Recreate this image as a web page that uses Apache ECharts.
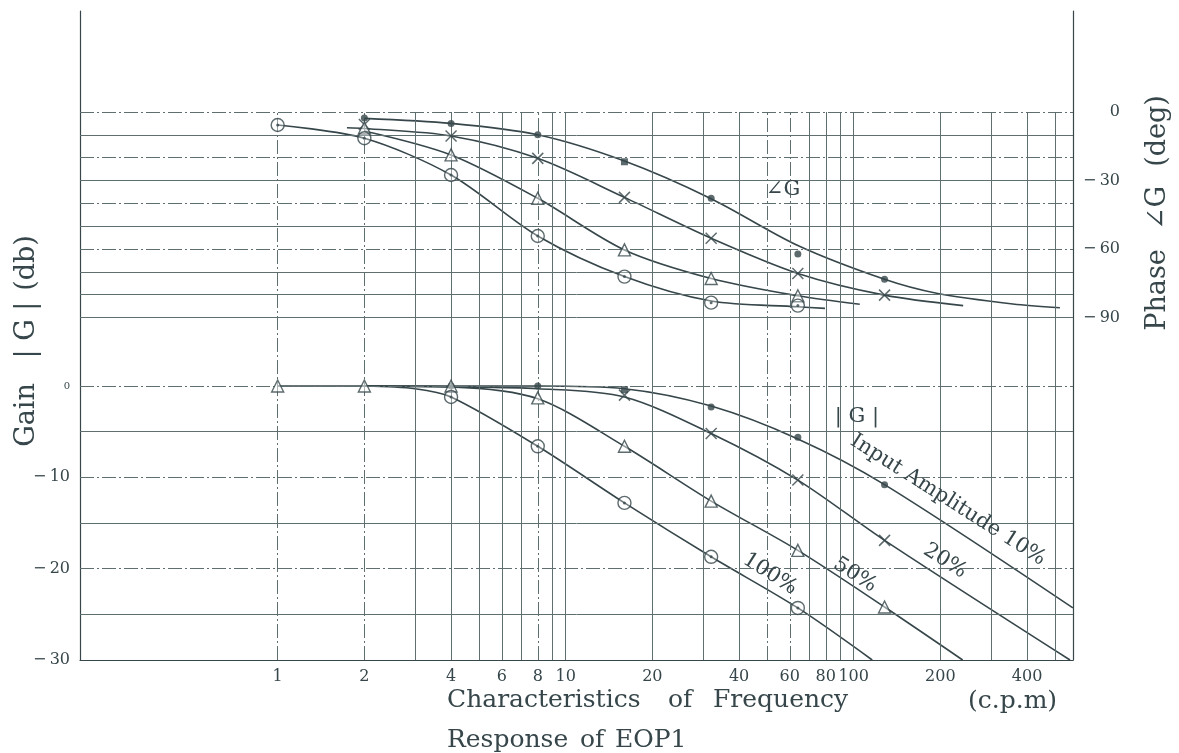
<!DOCTYPE html>
<html><head><meta charset="utf-8">
<script src="https://cdn.jsdelivr.net/npm/echarts@6/dist/echarts.min.js"></script>
<style>html,body{margin:0;padding:0;background:#fff}#c{width:1179px;height:753px}</style>
</head><body><div id="c"></div>
<script>
// ---- data ----
const freqs = [1, 2, 4, 8, 16, 32, 64, 128];
// phase markers (deg)
const phase10  = [null, -2.6, -5.0, -10.0, -21.8, -37.8, -62.2, -73.3];
const phase20  = [null, -5.5, -10.5, -20.3, -37.4, -55.3, -70.7, -80.2];
const phase50  = [null, -7.0, -18.8, -37.8, -60.4, -72.9, -80.5, null];
const phase100 = [-5.7, -11.5, -27.6, -54.3, -72.1, -83.5, -84.8, null];
// gain markers (dB)
const gain10  = [null, null, 0, 0, -0.4, -2.3, -5.6, -10.8];
const gain20  = [null, null, null, null, -1.0, -5.2, -10.3, -16.9];
const gain50  = [0, 0, 0, -1.3, -6.6, -12.6, -18.0, -24.2];
const gain100 = [null, null, -1.2, -6.6, -12.8, -18.7, -24.3, null];
// fitted curves
const pc10F  = [2, 4, 8, 16, 32, 64, 128, 194, 357, 520];
const pc10V  = [-2.8, -5.0, -10.0, -21.5, -38.0, -58.5, -73.3, -79.4, -84.1, -85.7];
const pc20F  = [1.74, 2, 4, 8, 16, 32, 64, 128, 240];
const pc20V  = [-6.9, -7.2, -10.5, -20.3, -37.4, -55.3, -70.7, -80.2, -84.8];
const pc50F  = [2, 4, 8, 16, 32, 64, 105];
const pc50V  = [-8.3, -18.8, -37.8, -60.4, -72.9, -80.5, -84.2];
const pc100F = [1, 2, 4, 8, 16, 32, 64, 79.5];
const pc100V = [-5.7, -11.5, -27.6, -54.3, -72.1, -82.8, -85.3, -86.0];
const gc10F  = [2, 8, 16, 32, 64, 128, 577];
const gc10V  = [0, 0, -0.3, -2.2, -5.8, -10.8, -24.3];
const gc20F  = [2, 4, 8, 16, 32, 64, 128, 564];
const gc20V  = [0, -0.1, -0.3, -1.2, -5.2, -10.3, -16.9, -30];
const gc50F  = [1, 2, 4, 8, 16, 32, 64, 128, 239];
const gc50V  = [0, 0, -0.1, -1.4, -6.6, -12.6, -18.0, -24.2, -30];
const gc100F = [2, 3, 4, 8, 16, 32, 64, 116];
const gc100V = [0, -0.3, -1.2, -6.6, -12.8, -18.7, -24.3, -30];
// axes / grid
const xGridValues = [1,2,3,4,5,6,7,8,9,10,20,30,40,50,60,70,80,90,100,200,300,400,500];
const xTickLabels = ['1','2','4','6','8','10','20','40','60','80','100','200','400'];
const xDashed = [1, 2, 8, 50, 60];
const gainTicks = [0, -10, -20, -30];
const phaseTicks = [0, -30, -60, -90];
const gainGridValues = [0, -5, -10, -15, -20, -25];
const gainDashed = [0, -10, -20];
const phaseGridValues = [0, -10, -20, -30, -40, -50, -60, -70, -80, -90];
const phaseDashed = [0, -20, -40, -60];

// ---- styling ----
const ink = '#36464a';
const gridInk = '#5f6f70';
const FONT = '"DejaVu Serif", "DejaVu Sans", serif';
const dashDot = [14, 3, 2, 3];

const pairs = (fs, vs) => fs.map((f, i) => vs[i] == null ? null : [f, vs[i]]).filter(Boolean);

function curve(fs, vs, yIdx) {
  return { type: 'line', xAxisIndex: 0, yAxisIndex: yIdx, data: pairs(fs, vs), smooth: 0.3,
    showSymbol: false, silent: true, z: 3,
    lineStyle: { color: ink, width: 1.6 } };
}
function marks(vs, yIdx, kind) {
  const base = { type: 'scatter', xAxisIndex: 0, yAxisIndex: yIdx, silent: true, z: 5 };
  let data = pairs(freqs, vs);
  if (kind === 'dot') {
    return Object.assign(base, { data: data.map(d => ({ value: d, symbol: d[0] === 16 ? 'rect' : 'circle' })),
      symbolSize: 7, itemStyle: { color: ink } });
  }
  if (kind === 'x') {
    return Object.assign(base, { data, symbol: 'path://M0,0L10,10M10,0L0,10', symbolSize: 11,
      itemStyle: { color: 'transparent', borderColor: ink, borderWidth: 1.5 } });
  }
  if (kind === 'tri') {
    return Object.assign(base, { data, symbol: 'triangle', symbolSize: 12,
      itemStyle: { color: 'rgba(255,255,255,0.6)', borderColor: ink, borderWidth: 1.4 } });
  }
  if (kind === 'circ') {
    return Object.assign(base, { data, symbol: 'circle', symbolSize: 13,
      itemStyle: { color: 'rgba(255,255,255,0.4)', borderColor: ink, borderWidth: 1.4 } });
  }
  if (kind === 'cdot') {
    return Object.assign(base, { data, symbol: 'circle', symbolSize: 3, z: 6, itemStyle: { color: ink } });
  }
}

const vLines = xGridValues.map(f => [
  { coord: [f, -30], name: xTickLabels.includes(String(f)) ? String(f) : '',
    lineStyle: { type: xDashed.includes(f) ? dashDot : 'solid' } },
  { coord: [f, 30] }
]);
const gLines = gainGridValues.map(v => ({ yAxis: v, lineStyle: { type: gainDashed.includes(v) ? dashDot : 'solid' } }));
const pLines = phaseGridValues.map(v => ({ yAxis: v, lineStyle: { type: phaseDashed.includes(v) ? dashDot : 'solid' } }));

const mlBase = { silent: true, symbol: ['none', 'none'], animation: false,
  lineStyle: { color: gridInk, width: 1 } };

const series = [
  { type: 'line', xAxisIndex: 0, yAxisIndex: 0, data: [], z: 1,
    markLine: Object.assign({}, mlBase, { data: vLines,
      label: { show: true, position: 'start', formatter: '{b}', distance: 9,
        color: ink, fontFamily: FONT, fontSize: 16 } }) },
  { type: 'line', xAxisIndex: 0, yAxisIndex: 0, data: [], z: 1,
    markLine: Object.assign({}, mlBase, { data: gLines, label: { show: false } }) },
  { type: 'line', xAxisIndex: 0, yAxisIndex: 1, data: [], z: 1,
    markLine: Object.assign({}, mlBase, { data: pLines, label: { show: false } }) },
  curve(pc10F, pc10V, 1), curve(pc20F, pc20V, 1), curve(pc50F, pc50V, 1), curve(pc100F, pc100V, 1),
  curve(gc10F, gc10V, 0), curve(gc20F, gc20V, 0), curve(gc50F, gc50V, 0), curve(gc100F, gc100V, 0),
  marks(phase10, 1, 'dot'), marks(phase20, 1, 'x'), marks(phase50, 1, 'tri'),
  marks(phase100, 1, 'circ'), marks(phase100, 1, 'cdot'),
  marks(gain10, 0, 'dot'), marks(gain20, 0, 'x'), marks(gain50, 0, 'tri'),
  marks(gain100, 0, 'circ'), marks(gain100, 0, 'cdot')
];

const txt = (text, x, y, size, rot, align) => ({ type: 'text', x, y, rotation: rot || 0, silent: true, z: 10,
  style: { text, font: size + 'px ' + FONT, fill: ink, align: align || 'center', verticalAlign: 'middle' } });
const slope = -32.4 * Math.PI / 180;

const option = {
  animation: false,
  backgroundColor: '#ffffff',
  grid: { left: 80, right: 106, top: 11, bottom: 93, containLabel: false },
  xAxis: { type: 'log', logBase: 10, min: 0.2059, max: 577.5,
    axisLine: { show: true, onZero: false, lineStyle: { color: ink, width: 1.2 } },
    axisTick: { show: false }, axisLabel: { show: false }, splitLine: { show: false } },
  yAxis: [
    { type: 'value', position: 'left', min: -30, max: 41.06, interval: 10,
      axisLine: { show: true, onZero: false, lineStyle: { color: ink, width: 1.2 } },
      axisTick: { show: false }, splitLine: { show: false },
      axisLabel: { margin: 10, color: ink, fontFamily: FONT, fontSize: 16, showMaxLabel: false,
        formatter: v => gainTicks.includes(v) ? (v === 0 ? '{s|0}' : '\u2212\u2009' + Math.abs(v)) : '',
        rich: { s: { fontSize: 10, fontFamily: FONT, color: ink } } } },
    { type: 'value', position: 'right', min: -240, max: 44.23, interval: 30,
      axisLine: { show: true, onZero: false, lineStyle: { color: ink, width: 1.2 } },
      axisTick: { show: false }, splitLine: { show: false },
      axisLabel: { margin: 47, align: 'right', color: ink, fontFamily: FONT, fontSize: 16, showMaxLabel: false,
        formatter: v => phaseTicks.includes(v) ? (v === 0 ? '0' : '\u2212\u2009' + Math.abs(v)) : '' } }
  ],
  series,
  graphic: [
    txt('Gain', 27, 415, 27, Math.PI / 2), txt('| G |', 27, 330, 27, Math.PI / 2), txt('(db)', 27, 263, 27, Math.PI / 2),
    txt('Phase', 1158, 290, 27, Math.PI / 2), txt('\u2220G', 1158, 208, 27, Math.PI / 2), txt('(deg)', 1158, 131, 27, Math.PI / 2),
    txt('Characteristics', 447, 700, 25, 0, 'left'), txt('of', 668, 700, 25, 0, 'left'), txt('Frequency', 713, 700, 25, 0, 'left'),
    txt('(c.p.m)', 968, 701, 25, 0, 'left'),
    txt('Response', 447, 740, 25, 0, 'left'), txt('of', 580, 740, 25, 0, 'left'), txt('EOP1', 615, 740, 25, 0, 'left'),
    txt('\u2220G', 783, 190, 21), txt('| G |', 857, 417, 21),
    txt('Input Amplitude 10%', 948, 500, 21, slope), txt('20%', 945, 561, 21, slope),
    txt('50%', 855, 575, 21, slope), txt('100%', 770, 574, 21, slope)
  ]
};
const chart = echarts.init(document.getElementById('c'), null, { renderer: 'canvas' });
chart.setOption(option);
</script></body></html>
